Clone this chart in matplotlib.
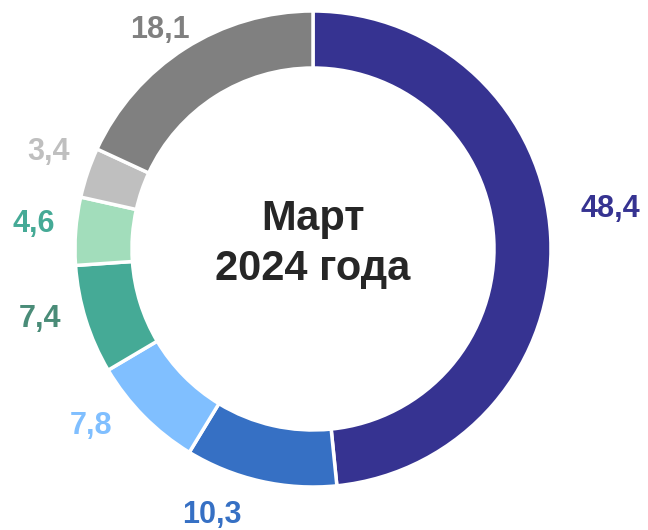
import numpy as np
import matplotlib
matplotlib.use("Agg")
import matplotlib.pyplot as plt

plt.rcParams["font.family"] = ["Liberation Sans", "DejaVu Sans"]

# Data (shares, %), clockwise from 12 o'clock
values = [48.4, 10.3, 7.8, 7.4, 4.6, 3.4, 18.1]
labels = ["48,4", "10,3", "7,8", "7,4", "4,6", "3,4", "18,1"]
colors = ["#363391", "#3670C4", "#80BFFF", "#45AA96", "#A2DDBB", "#BFBFBF", "#808080"]
label_colors = ["#363391", "#3670C4", "#80BFFF", "#4A8C78", "#45AA96", "#BFBFBF", "#808080"]
center_text = "Март\n2024 года"

# label placement tweaks: angle nudge (deg) and radius (px)
nudge = [4.8, -8.0, -6.0, -3.0, -0.8, -1.4, 2.3]
label_r = [300, 284, 284, 282, 280, 282, 267]

W, H = 648, 530
cx, cy = 313, H - 249
R = 238

fig = plt.figure(figsize=(W / 100, H / 100), dpi=100)
ax = fig.add_axes([0, 0, 1, 1])

wedges, _ = ax.pie(
    values,
    colors=colors,
    startangle=90,
    counterclock=False,
    radius=R,
    center=(cx, cy),
    wedgeprops=dict(width=57, edgecolor="white", linewidth=2.5),
    frame=True,
)

for w, lab, col, dn, r in zip(wedges, labels, label_colors, nudge, label_r):
    ang = np.deg2rad((w.theta1 + w.theta2) / 2 + dn)
    ax.text(cx + r * np.cos(ang), cy + r * np.sin(ang), lab,
            ha="center", va="center", fontsize=22, fontweight="bold", color=col)

ax.text(cx, cy + 5, center_text, ha="center", va="center", fontsize=30,
        fontweight="bold", color="#262626", linespacing=1.32)

ax.set_xlim(0, W)
ax.set_ylim(0, H)
ax.set_aspect("equal")
ax.axis("off")

fig.savefig("out.png", dpi=100)
